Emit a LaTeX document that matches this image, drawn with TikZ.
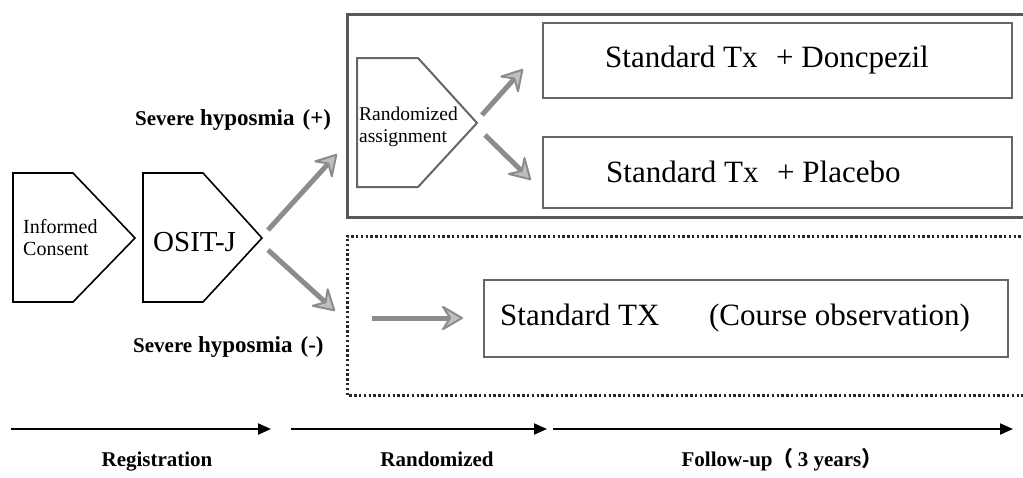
\documentclass[tikz,border=0pt]{standalone}
\usepackage{fontspec}
\setmainfont{Liberation Serif}
\newfontfamily\cjk{Noto Sans CJK SC}
\usetikzlibrary{arrows.meta}
\begin{document}
\begin{tikzpicture}[x=1pt,y=-1pt,
  penta/.style={draw=black,line width=1.6pt,line join=miter},
  grpenta/.style={draw=black!60,line width=2pt,line join=miter},
  armbox/.style={draw=black!60,line width=2.2pt},
  groupbox/.style={draw=black!65,line width=3pt},
  dotbox/.style={draw=black!85,line width=3pt,dash pattern=on 2.4pt off 2.4pt},
  garrow/.style={draw=black!45,line width=5pt,-{Stealth[length=24pt 0,width=28pt 0,inset=9pt 0,line width=2pt,fill=black!25,round]}},
  tarrow/.style={draw=black,line width=2pt,-{Triangle[length=13pt,width=11pt]}},
  bigtxt/.style={font=\fontsize{31}{34}\selectfont,inner sep=0pt},
  lbl/.style={font=\bfseries\fontsize{21}{24}\selectfont,inner sep=0pt},
  hlbl/.style={font=\bfseries\fontsize{23}{26}\selectfont,inner sep=0pt},
]
\useasboundingbox (0,0) rectangle (1023,477);

% group boxes
\draw[groupbox] (1040,14) -- (347,14) -- (347,217) -- (1040,217);
\draw[dotbox] (1040,236) -- (347,236) -- (347,395) -- (1040,395);

% pentagons
\draw[penta] (13,173) -- (73,173) -- (135,238) -- (73,302) -- (13,302) -- cycle;
\draw[penta] (143,173) -- (203,173) -- (262,238) -- (203,302) -- (143,302) -- cycle;
\draw[grpenta] (357,58) -- (418,58) -- (477,123) -- (418,187) -- (357,187) -- cycle;

\node[font=\fontsize{20}{22}\selectfont,align=left,anchor=west,inner sep=0pt] (ic) at (23,238) {Informed\\Consent};
\node[font=\fontsize{29}{30}\selectfont,anchor=west,inner sep=0pt] (osit) at (153,242) {OSIT-J};
\node[font=\fontsize{19.5}{22}\selectfont,align=left,anchor=west,inner sep=0pt] (rand) at (359,127) {Randomized\\assignment};

% arm boxes
\draw[armbox] (543,23) rectangle (1012,98);
\draw[armbox] (543,137) rectangle (1012,208);
\draw[armbox] (484,280) rectangle (1008,357);
\node[bigtxt,anchor=west] (don) at (605,60) {Standard Tx\hspace{0.6em}+ Doncpezil};
\node[bigtxt,anchor=west] (pla) at (606,172) {Standard Tx\hspace{0.6em}+ Placebo};
\node[bigtxt,anchor=west] (obs) at (500,318) {Standard TX\hspace{1.6em}(Course observation)};

% hyposmia labels
\node[hlbl,anchor=west] (hp) at (135,120) {{\fontsize{21}{24}\selectfont Severe} hyposmia\hspace{0.35em}(+)};
\node[hlbl,anchor=west] (hm) at (133,347) {{\fontsize{21}{24}\selectfont Severe} hyposmia\hspace{0.35em}(-)};

% arrow end points
\coordinate (a1s) at (268,230); \coordinate (a1e) at (337,154);
\coordinate (a2s) at (268,250); \coordinate (a2e) at (335,311);
\coordinate (a3s) at (482,115); \coordinate (a3e) at (523,69);
\coordinate (a4s) at (485,135); \coordinate (a4e) at (531,180);
\coordinate (a5s) at (372,318); \coordinate (a5e) at (463,318);
\draw[garrow] (a1s) -- (a1e);
\draw[garrow] (a2s) -- (a2e);
\draw[garrow] (a3s) -- (a3e);
\draw[garrow] (a4s) -- (a4e);
\draw[garrow] (a5s) -- (a5e);

% timeline
\coordinate (t1s) at (11,429); \coordinate (t1e) at (271,429);
\coordinate (t2s) at (291,429); \coordinate (t2e) at (547,429);
\coordinate (t3s) at (553,429); \coordinate (t3e) at (1013,429);
\draw[tarrow] (t1s) -- (t1e);
\draw[tarrow] (t2s) -- (t2e);
\draw[tarrow] (t3s) -- (t3e);

\node[lbl,anchor=base] (reg) at (157,466) {Registration};
\node[lbl,anchor=base] (rnd) at (437,466) {Randomized};
\node[lbl,anchor=base] (fu) at (782,466) {Follow-up{\cjk （}\hspace{0.2em}3 years{\cjk ）}};
\end{tikzpicture}
\end{document}
